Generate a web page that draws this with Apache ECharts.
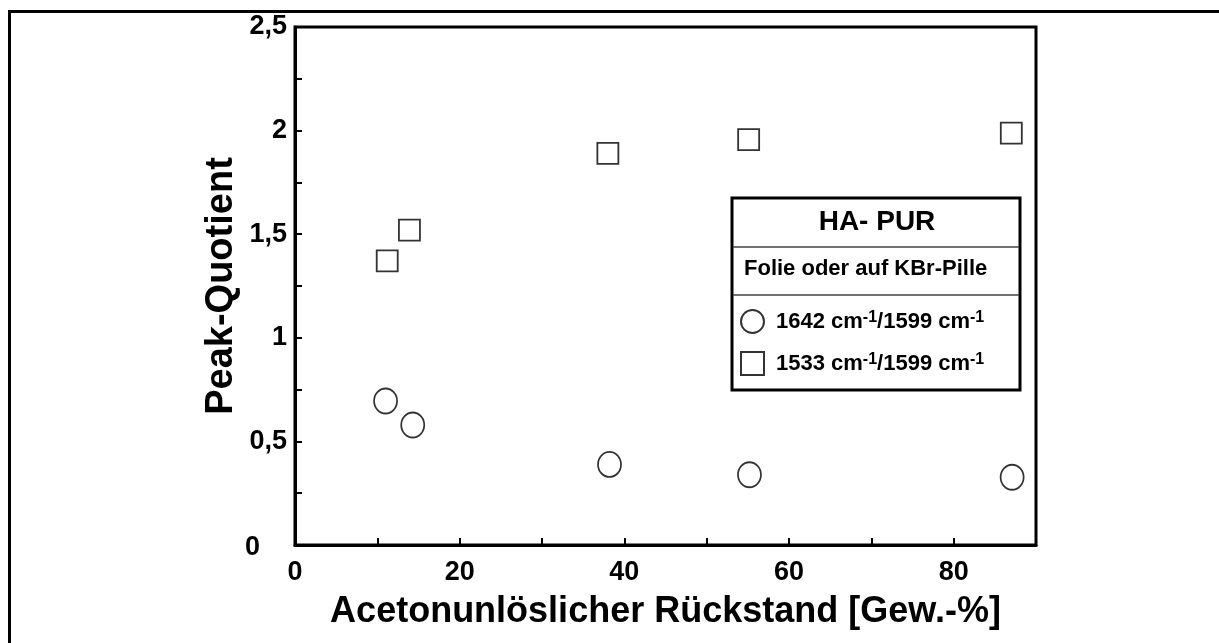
<!DOCTYPE html>
<html>
<head>
<meta charset="utf-8">
<script src="https://cdn.jsdelivr.net/npm/echarts@6/dist/echarts.min.js"></script>
<style>
  html, body { margin: 0; padding: 0; background: #fff; }
  #chart { width: 1219px; height: 643px; }
</style>
</head>
<body>
<div id="chart"></div>
<script>
// Acetone-insoluble residue [wt-%] and the two IR peak ratios
const residueCircle = [11.0, 14.3, 38.2, 55.2, 87.1];
const ratio1642 = [0.695, 0.579, 0.389, 0.339, 0.327];
const residueSquare = [11.2, 13.9, 38.0, 55.1, 87.0];
const ratio1533 = [1.371, 1.520, 1.890, 1.956, 1.988];

const seriesNames = ['1642 cm-1/1599 cm-1', '1533 cm-1/1599 cm-1'];
const boxTitle = 'HA- PUR';
const boxSubtitle = 'Folie oder auf KBr-Pille';
const xTitle = 'Acetonunlöslicher Rückstand [Gew.-%]';
const yTitle = 'Peak-Quotient';

const FONT = '"Liberation Sans", Arial, Helvetica, sans-serif';

function pairs(xs, ys) { return xs.map((x, i) => [x, ys[i]]); }

const chart = echarts.init(document.getElementById('chart'), null, { renderer: 'canvas' });

const option = {
  backgroundColor: '#fff',
  animation: false,
  grid: {
    left: 295, right: 183, top: 27, bottom: 98,
    show: true, borderColor: '#000', borderWidth: 3
  },
  xAxis: {
    type: 'value', min: 0, max: 90, interval: 10,
    name: xTitle, nameLocation: 'middle', nameGap: 49, nameMoveOverlap: false,
    nameTextStyle: { fontFamily: FONT, fontWeight: 'bold', fontSize: 36, color: '#000' },
    axisLine: { lineStyle: { color: '#000', width: 3 } },
    axisTick: { inside: true, length: 7, lineStyle: { color: '#000', width: 2 } },
    axisLabel: {
      margin: 14, color: '#000', fontFamily: FONT, fontWeight: 'bold', fontSize: 27,
      formatter: v => (v % 20 === 0 && v < 90) ? String(v) : ''
    },
    splitLine: { show: false }
  },
  yAxis: {
    type: 'value', min: 0, max: 2.5, interval: 0.25,
    name: yTitle, nameLocation: 'middle', nameGap: 54, nameRotate: 90, nameMoveOverlap: false,
    nameTextStyle: { fontFamily: FONT, fontWeight: 'bold', fontSize: 38, color: '#000' },
    axisLine: { lineStyle: { color: '#000', width: 3 } },
    axisTick: { inside: true, length: 7, lineStyle: { color: '#000', width: 2 } },
    axisLabel: {
      margin: 8, color: '#000', fontFamily: FONT, fontWeight: 'bold', fontSize: 27,
      formatter: v => {
        if (Math.abs(v * 2 - Math.round(v * 2)) > 1e-6) return '';
        if (v === 0) return '{z|0}';
        return String(v).replace('.', ',');
      },
      rich: {
        z: { fontFamily: FONT, fontWeight: 'bold', fontSize: 27, color: '#000', padding: [6, 27, 0, 0] }
      }
    },
    splitLine: { show: false }
  },
  legend: {
    orient: 'vertical', left: 740, top: 309, itemGap: 16, padding: 0,
    itemWidth: 23, itemHeight: 23,
    data: seriesNames,
    formatter: name => {
      const bits = name.split('/');
      return bits.map(b => '{b|' + b.replace('cm-1', 'cm') + '}{s|-1}').join('{b|/}');
    },
    textStyle: {
      padding: [0, 0, 0, 7],
      rich: {
        b: { fontFamily: FONT, fontWeight: 'bold', fontSize: 22, color: '#000', lineHeight: 23, verticalAlign: 'bottom' },
        s: { fontFamily: FONT, fontWeight: 'bold', fontSize: 16, color: '#000', lineHeight: 23, verticalAlign: 'top', padding: [0, 0, 9, 0] }
      }
    }
  },
  graphic: [
    // outer frame
    { type: 'rect', shape: { x: 9.5, y: 11.5, width: 1400, height: 800 },
      style: { fill: null, stroke: '#000', lineWidth: 3 }, z: 100 },
    // legend box
    { type: 'rect', shape: { x: 732, y: 198, width: 288, height: 192 },
      style: { fill: null, stroke: '#000', lineWidth: 3 }, z: 100 },
    { type: 'line', shape: { x1: 733, y1: 247, x2: 1019, y2: 247 },
      style: { stroke: '#444', lineWidth: 1.5 }, z: 100 },
    { type: 'line', shape: { x1: 733, y1: 295, x2: 1019, y2: 295 },
      style: { stroke: '#444', lineWidth: 1.5 }, z: 100 },
    { type: 'text', x: 877, y: 222, z: 100,
      style: { text: boxTitle, fontFamily: FONT, fontWeight: 'bold', fontSize: 28, fill: '#000',
        align: 'center', verticalAlign: 'middle' } },
    { type: 'text', x: 744, y: 269, z: 100,
      style: { text: boxSubtitle, fontFamily: FONT, fontWeight: 'bold', fontSize: 22, fill: '#000',
        align: 'left', verticalAlign: 'middle' } }
  ],
  series: [
    {
      name: seriesNames[0], type: 'scatter', symbol: 'circle', symbolSize: [23, 25],
      data: pairs(residueCircle, ratio1642),
      itemStyle: { color: 'rgba(255,255,255,0)', borderColor: '#000', borderWidth: 1.8 }
    },
    {
      name: seriesNames[1], type: 'scatter', symbol: 'rect', symbolSize: 21,
      data: pairs(residueSquare, ratio1533),
      itemStyle: { color: 'rgba(255,255,255,0)', borderColor: '#000', borderWidth: 1.8 }
    }
  ]
};

chart.setOption(option);
</script>
</body>
</html>
